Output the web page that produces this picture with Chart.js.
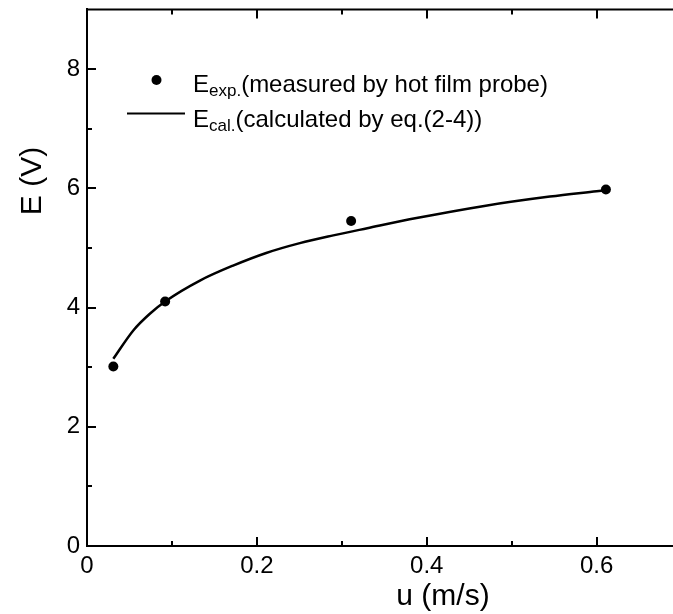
<!DOCTYPE html>
<html>
<head>
<meta charset="utf-8">
<script src="https://cdn.jsdelivr.net/npm/chart.js@4/dist/chart.umd.min.js"></script>
<style>
html,body{margin:0;padding:0;background:#fff;overflow:hidden;}
#wrap{width:673px;height:614px;position:relative;}
</style>
</head>
<body>
<div id="wrap"><canvas id="c" width="673" height="614"></canvas></div>
<script>
// Experimental points (measured by hot film probe)
const expU = [0.031, 0.092, 0.311, 0.611];
const expE = [3.01, 4.10, 5.45, 5.98];
// Calculated curve (eq. 2-4)
const calU = [0.031, 0.0545, 0.074, 0.0937, 0.133, 0.172, 0.211, 0.2506, 0.29, 0.33, 0.388, 0.466, 0.545, 0.60, 0.611];
const calE = [3.14, 3.615, 3.895, 4.117, 4.452, 4.703, 4.915, 5.08, 5.21, 5.33, 5.50, 5.70, 5.86, 5.95, 5.968];
// Axis ticks
const xMajorTicks = [0, 0.2, 0.4, 0.6];
const xMinorTicks = [0.1, 0.3, 0.5];
const yMajorTicks = [0, 2, 4, 6, 8];
const yMinorTicks = [1, 3, 5, 7];
const xTitle = 'u (m/s)';
const yTitle = 'E (V)';
const legendExp = ['E', 'exp.', '(measured by hot film probe)'];
const legendCal = ['E', 'cal.', '(calculated by eq.(2-4))'];

const FONT = '"Liberation Sans", Arial, sans-serif';

const decor = {
  id: 'decor',
  afterDraw(chart) {
    const ctx = chart.ctx;
    const xs = chart.scales.x, ys = chart.scales.y;
    const a = chart.chartArea;
    ctx.save();
    ctx.strokeStyle = '#000';
    ctx.lineWidth = 2;
    // top border
    ctx.beginPath();
    ctx.moveTo(a.left - 1, a.top);
    ctx.lineTo(a.right + 2, a.top);
    ctx.stroke();
    // ticks (inward)
    const xt = (v, len) => {
      const px = Math.round(xs.getPixelForValue(v));
      ctx.beginPath(); ctx.moveTo(px, a.bottom); ctx.lineTo(px, a.bottom - len); ctx.stroke();
      ctx.beginPath(); ctx.moveTo(px, a.top); ctx.lineTo(px, a.top + len); ctx.stroke();
    };
    xMajorTicks.forEach(v => xt(v, 9));
    xMinorTicks.forEach(v => xt(v, 5));
    const yt = (v, len) => {
      const py = Math.round(ys.getPixelForValue(v));
      ctx.beginPath(); ctx.moveTo(a.left, py); ctx.lineTo(a.left + len, py); ctx.stroke();
    };
    yMajorTicks.forEach(v => yt(v, 9));
    yMinorTicks.forEach(v => yt(v, 5));

    // axis titles
    ctx.fillStyle = '#000';
    ctx.font = '30px ' + FONT;
    ctx.textAlign = 'center';
    ctx.textBaseline = 'alphabetic';
    ctx.fillText(xTitle, 443, 605);
    ctx.save();
    ctx.translate(41, 181);
    ctx.rotate(-Math.PI / 2);
    ctx.fillText(yTitle, 0, 0);
    ctx.restore();

    // legend
    ctx.textAlign = 'left';
    const drawEntry = (parts, x, y) => {
      ctx.font = '24px ' + FONT;
      ctx.fillText(parts[0], x, y);
      let w = ctx.measureText(parts[0]).width;
      ctx.font = '17px ' + FONT;
      ctx.fillText(parts[1], x + w, y + 4);
      w += ctx.measureText(parts[1]).width;
      ctx.font = '24px ' + FONT;
      ctx.fillText(parts[2], x + w, y);
    };
    ctx.beginPath();
    ctx.arc(156.5, 80, 5, 0, Math.PI * 2);
    ctx.fill();
    drawEntry(legendExp, 193, 92);
    ctx.beginPath();
    ctx.moveTo(127, 113.5); ctx.lineTo(185, 113.5);
    ctx.stroke();
    drawEntry(legendCal, 193, 127);
    ctx.restore();
  }
};

new Chart(document.getElementById('c'), {
  type: 'scatter',
  data: {
    datasets: [
      {
        label: 'Ecal',
        data: calU.map((u, i) => ({x: u, y: calE[i]})),
        showLine: true,
        borderColor: '#000',
        borderWidth: 2.5,
        pointRadius: 0,
        cubicInterpolationMode: 'monotone',
        fill: false
      },
      {
        label: 'Eexp',
        data: expU.map((u, i) => ({x: u, y: expE[i]})),
        showLine: false,
        backgroundColor: '#000',
        borderColor: '#000',
        pointRadius: 5,
        pointBorderWidth: 0
      }
    ]
  },
  options: {
    responsive: false,
    animation: false,
    layout: {autoPadding: false, padding: {top: 9, left: 0, right: 0, bottom: 0}},
    plugins: {legend: {display: false}, tooltip: {enabled: false}},
    scales: {
      x: {
        type: 'linear',
        min: 0, max: 0.69,
        afterFit(s) { s.height = 68; },
        afterBuildTicks(s) { s.ticks = xMajorTicks.map(v => ({value: v})); },
        grid: {display: false, drawTicks: false},
        border: {display: true, color: '#000', width: 2},
        ticks: {
          color: '#000', padding: 6,
          font: {family: FONT, size: 24},
          maxRotation: 0,
          callback: v => String(v)
        }
      },
      y: {
        type: 'linear',
        min: 0, max: 9,
        afterFit(s) { s.width = 87; },
        afterBuildTicks(s) { s.ticks = yMajorTicks.map(v => ({value: v})); },
        grid: {display: false, drawTicks: false},
        border: {display: true, color: '#000', width: 2},
        ticks: {
          color: '#000', padding: 7,
          font: {family: FONT, size: 24, lineHeight: 0.2},
          callback: v => String(v)
        }
      }
    }
  },
  plugins: [decor]
});
</script>
</body>
</html>
